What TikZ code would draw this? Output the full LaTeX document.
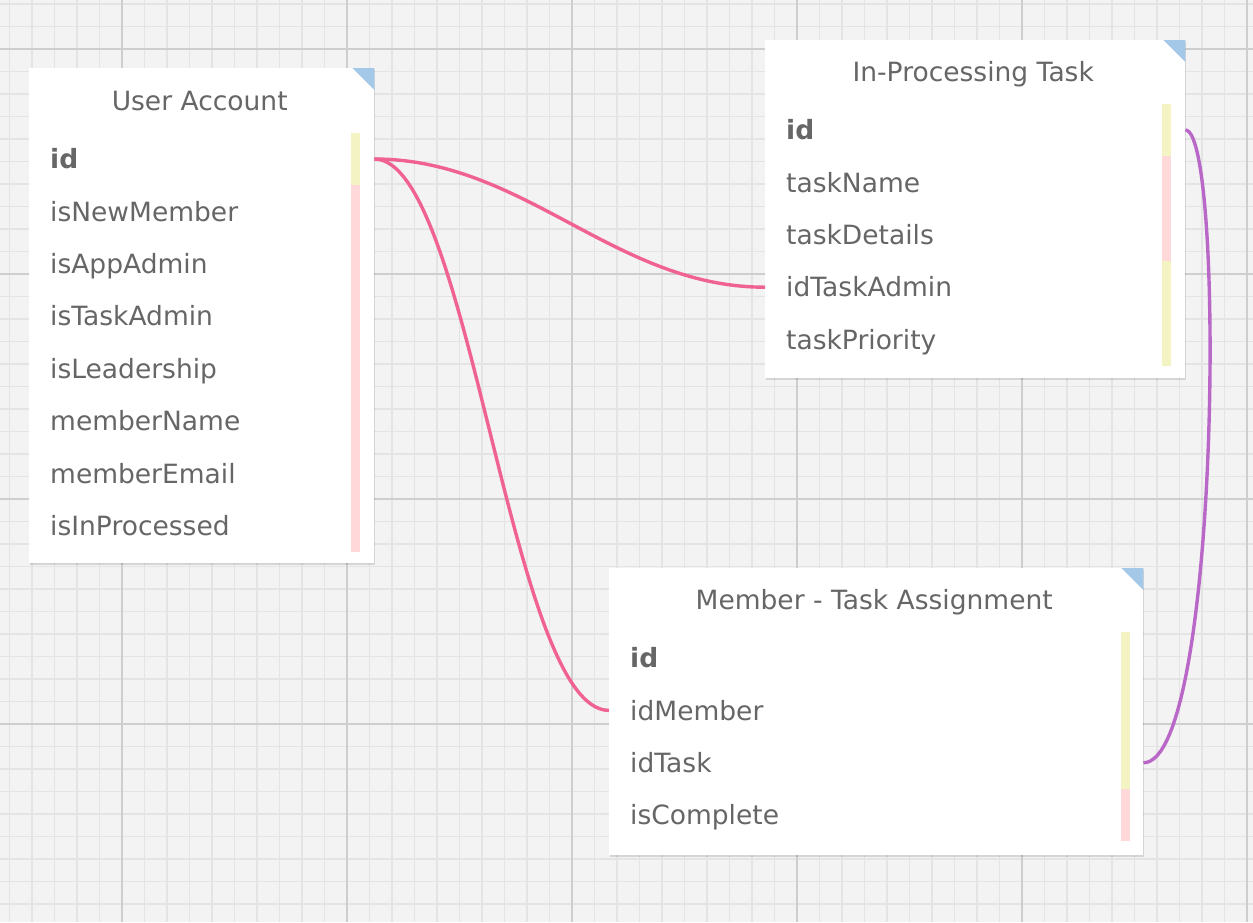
\documentclass[tikz,border=0pt]{standalone}
\usepackage{fontspec}
\setmainfont{DejaVu Sans}
\usepackage{xcolor}
\usepackage{tikz}
\usetikzlibrary{positioning,calc,shadows}

\definecolor{bggray}{RGB}{243,243,243}
\definecolor{gridminor}{RGB}{228,228,228}
\definecolor{gridmajor}{RGB}{206,206,206}
\definecolor{txtgray}{RGB}{102,102,102}
\definecolor{keyyel}{RGB}{243,243,196}
\definecolor{keypink}{RGB}{255,217,217}
\definecolor{cornerblue}{RGB}{164,200,232}
\definecolor{fkpink}{RGB}{240,98,146}
\definecolor{fkpurple}{RGB}{186,104,200}

\newcommand{\tblfont}{\fontsize{26.5}{31}\selectfont}

\begin{document}
\begin{tikzpicture}[
    x=1pt, y=-1pt,
    tbl/.style={fill=white, draw=none, inner sep=0pt, anchor=north west,
        drop shadow={shadow xshift=1pt, shadow yshift=-2pt, opacity=.12, fill=black}},
    ttl/.style={font=\tblfont, text=txtgray, inner sep=0pt, text height=19.5pt, text depth=0pt},
    rowtxt/.style={font=\tblfont, text=txtgray, minimum height=52pt, inner ysep=0pt, inner xsep=21pt,
        text height=19.5pt, text depth=0pt, align=left},
    uarow/.style={rowtxt, text width=303pt},
    iptrow/.style={rowtxt, text width=378pt},
    mtarow/.style={rowtxt, text width=492pt},
    fk/.style={line width=3.4pt, fkpink},
    fk2/.style={line width=3.4pt, fkpurple}
]
\useasboundingbox (0,0) rectangle (1253,922);
\fill[bggray] (0,0) rectangle (1253,922);

% grid
\foreach \i in {-5,...,50}
    \draw[gridminor, line width=1.8pt] ({122+22.5*\i},0) -- ({122+22.5*\i},922);
\foreach \j in {-2,...,39}
    \draw[gridminor, line width=1.8pt] (0,{49+22.5*\j}) -- (1253,{49+22.5*\j});
\foreach \i in {0,...,5}
    \draw[gridmajor, line width=2pt] ({122+225*\i},0) -- ({122+225*\i},922);
\foreach \j in {0,...,3}
    \draw[gridmajor, line width=2pt] (0,{49+225*\j}) -- (1253,{49+225*\j});

% User Account
\node[tbl, minimum width=345pt, minimum height=495pt] (ua) at (29,68) {};
\fill[cornerblue] (ua.north east) -- ++(-22,0) -- ++(22,22) -- cycle;
\node[ttl] (ua-title) at ($(ua.north)+(-2,33)$) {User Account};
\node[uarow, anchor=west] (ua-id) at (29,159) {\bfseries id};
\node[uarow, below=0pt of ua-id] (ua-isNewMember) {isNewMember};
\node[uarow, below=0pt of ua-isNewMember] (ua-isAppAdmin) {isAppAdmin};
\node[uarow, below=0pt of ua-isAppAdmin] (ua-isTaskAdmin) {isTaskAdmin};
\node[uarow, below=0pt of ua-isTaskAdmin] (ua-isLeadership) {isLeadership};
\node[uarow, below=0pt of ua-isLeadership] (ua-memberName) {memberName};
\node[uarow, below=0pt of ua-memberName] (ua-memberEmail) {memberEmail};
\node[uarow, below=0pt of ua-memberEmail] (ua-isInProcessed) {isInProcessed};
\fill[keyyel] ($(ua-id.north east)+(-23,0)$) rectangle ($(ua-id.south east)+(-14,0)$);
\fill[keypink] ($(ua-isNewMember.north east)+(-23,0)$) rectangle ($(ua-isInProcessed.south east)+(-14,0)$);

% In-Processing Task
\node[tbl, minimum width=420pt, minimum height=338pt] (ipt) at (765,40) {};
\fill[cornerblue] (ipt.north east) -- ++(-22,0) -- ++(22,22) -- cycle;
\node[ttl] (ipt-title) at ($(ipt.north)+(-2,32)$) {In-Processing Task};
\node[iptrow, anchor=west] (ipt-id) at (765,130) {\bfseries id};
\node[iptrow, below=0pt of ipt-id] (ipt-taskName) {taskName};
\node[iptrow, below=0pt of ipt-taskName] (ipt-taskDetails) {taskDetails};
\node[iptrow, below=0pt of ipt-taskDetails] (ipt-idTaskAdmin) {idTaskAdmin};
\node[iptrow, below=0pt of ipt-idTaskAdmin] (ipt-taskPriority) {taskPriority};
\fill[keyyel] ($(ipt-id.north east)+(-23,0)$) rectangle ($(ipt-id.south east)+(-14,0)$);
\fill[keypink] ($(ipt-taskName.north east)+(-23,0)$) rectangle ($(ipt-taskDetails.south east)+(-14,0)$);
\fill[keyyel] ($(ipt-idTaskAdmin.north east)+(-23,0)$) rectangle ($(ipt-taskPriority.south east)+(-14,0)$);

% Member - Task Assignment
\node[tbl, minimum width=534pt, minimum height=287pt] (mta) at (609,568) {};
\fill[cornerblue] (mta.north east) -- ++(-22,0) -- ++(22,22) -- cycle;
\node[ttl] (mta-title) at ($(mta.north)+(-2,32)$) {Member - Task Assignment};
\node[mtarow, anchor=west] (mta-id) at (609,658) {\bfseries id};
\node[mtarow, below=0pt of mta-id] (mta-idMember) {idMember};
\node[mtarow, below=0pt of mta-idMember] (mta-idTask) {idTask};
\node[mtarow, below=0pt of mta-idTask] (mta-isComplete) {isComplete};
\fill[keyyel] ($(mta-id.north east)+(-22,0)$) rectangle ($(mta-idTask.south east)+(-13,0)$);
\fill[keypink] ($(mta-isComplete.north east)+(-22,0)$) rectangle ($(mta-isComplete.south east)+(-13,0)$);

% relations
\draw[fk] (ua-id.east) .. controls +(150,0) and +(-150,0) .. (ipt-idTaskAdmin.west);
\draw[fk] (ua-id.east) .. controls +(96,0) and +(-99,0) .. (mta-idMember.west);
\draw[fk2] (ipt-id.east) .. controls +(40,0) and +(77,0) .. (mta-idTask.east);
\end{tikzpicture}
\end{document}
